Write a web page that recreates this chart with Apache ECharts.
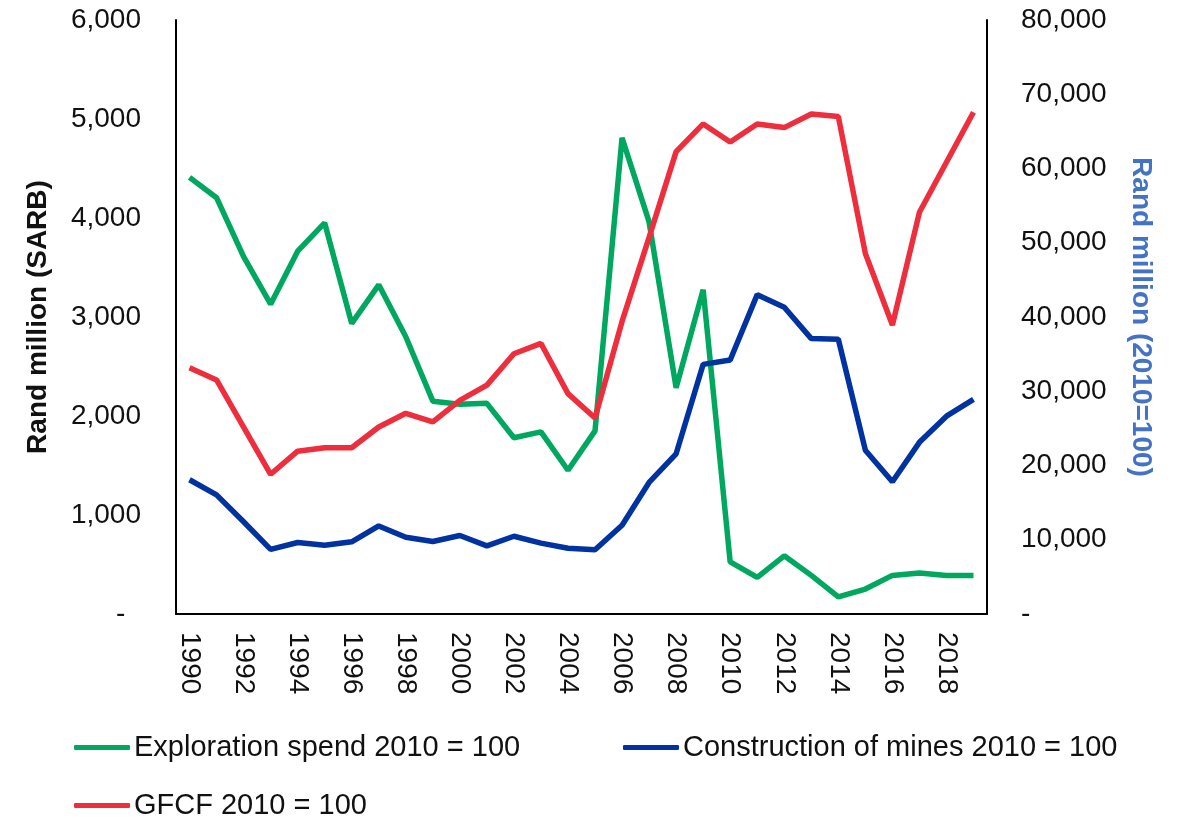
<!DOCTYPE html>
<html>
<head>
<meta charset="utf-8">
<title>Mining investment</title>
<script src="https://cdn.jsdelivr.net/npm/echarts@6/dist/echarts.min.js"></script>
<style>
  html, body { margin: 0; padding: 0; background: #fff; }
  #chart { width: 1180px; height: 818px; }
</style>
</head>
<body>
<div id="chart"></div>
<script>
// years on the category axis
const years = []
for (let y = 1990; y <= 2019; y++) years.push(String(y))

// left axis (Rand million, SARB)
const exploration = [4410, 4205, 3610, 3130, 3665, 3950, 2935, 3325, 2800, 2150,
  2118, 2128, 1780, 1840, 1452, 1850, 4810, 3960, 2285, 3275,
  526, 370, 588, 390, 172, 252, 390, 415, 390, 390]

// right axis (Rand million, 2010=100)
const construction = [18080, 16040, 12420, 8700, 9630, 9260, 9730, 11860, 10340, 9770,
  10570, 9180, 10470, 9540, 8850, 8660, 11950, 17720, 21580, 33620,
  34200, 43010, 41320, 37090, 37000, 22060, 17820, 23120, 26640, 28900]

const gfcf = [33150, 31530, 25180, 18820, 21930, 22390, 22390, 25180, 27030, 25870,
  28780, 30830, 35050, 36440, 29680, 26390, 39400, 50730, 62280, 66000,
  63580, 66000, 65510, 67340, 67010, 48550, 38920, 54100, 60840, 67580]

const names = ['Exploration spend 2010 = 100', 'Construction of mines 2010 = 100', 'GFCF 2010 = 100']
const colors = ['#00A85F', '#0033A1', '#EE2E3C']

const font = '"Liberation Sans", Arial, sans-serif'
const txt = '#111'

function thousands(v) {
  if (v === 0) return '-  '
  return v.toString().replace(/\B(?=(\d{3})+(?!\d))/g, ',')
}

const chart = echarts.init(document.getElementById('chart'))

function legendAt(name, left, top) {
  return {
    data: [name],
    left: left,
    top: top,
    padding: 0,
    icon: 'roundRect',
    itemWidth: 56,
    itemHeight: 5,
    itemGap: 0,
    textStyle: { fontFamily: font, fontSize: 29, color: txt, padding: [0, 0, 0, -1] }
  }
}

const option = {
  animation: false,
  textStyle: { fontFamily: font },
  grid: { left: 176, right: 193, top: 20, bottom: 204 },
  legend: [
    legendAt(names[0], 74, 733),
    legendAt(names[1], 623, 733),
    legendAt(names[2], 74, 791)
  ],
  xAxis: {
    type: 'category',
    data: years,
    boundaryGap: true,
    axisLine: { lineStyle: { color: '#000', width: 2 } },
    axisTick: { show: false },
    axisLabel: {
      interval: 1,
      rotate: -90,
      margin: 18,
      fontSize: 28,
      fontFamily: font,
      color: txt
    }
  },
  yAxis: [
    {
      type: 'value',
      min: 0,
      max: 6000,
      interval: 1000,
      name: 'Rand million (SARB)',
      nameLocation: 'middle',
      nameGap: 124,
      nameTextStyle: { fontFamily: font, fontSize: 28, fontWeight: 'bold', color: txt },
      axisLine: { show: true, lineStyle: { color: '#000', width: 2 } },
      axisTick: { show: false },
      splitLine: { show: false },
      axisLabel: { margin: 35, fontSize: 28, fontFamily: font, color: txt, formatter: thousands }
    },
    {
      type: 'value',
      min: 0,
      max: 80000,
      interval: 10000,
      name: 'Rand million (2010=100)',
      nameLocation: 'middle',
      nameRotate: -90,
      nameGap: 140,
      nameTextStyle: { fontFamily: font, fontSize: 28, fontWeight: 'bold', color: '#4472C4' },
      axisLine: { show: true, lineStyle: { color: '#000', width: 2 } },
      axisTick: { show: false },
      splitLine: { show: false },
      axisLabel: {
        margin: 34,
        fontSize: 28,
        fontFamily: font,
        color: txt,
        formatter: (v) => (v === 0 ? '-' : thousands(v))
      }
    }
  ],
  series: [
    {
      name: names[0],
      type: 'line',
      yAxisIndex: 0,
      data: exploration,
      symbol: 'none',
      itemStyle: { color: colors[0] },
      lineStyle: { color: colors[0], width: 5.5 }
    },
    {
      name: names[1],
      type: 'line',
      yAxisIndex: 1,
      data: construction,
      symbol: 'none',
      itemStyle: { color: colors[1] },
      lineStyle: { color: colors[1], width: 5.5 }
    },
    {
      name: names[2],
      type: 'line',
      yAxisIndex: 1,
      data: gfcf,
      symbol: 'none',
      itemStyle: { color: colors[2] },
      lineStyle: { color: colors[2], width: 5.5 }
    }
  ]
}

chart.setOption(option)
</script>
</body>
</html>
